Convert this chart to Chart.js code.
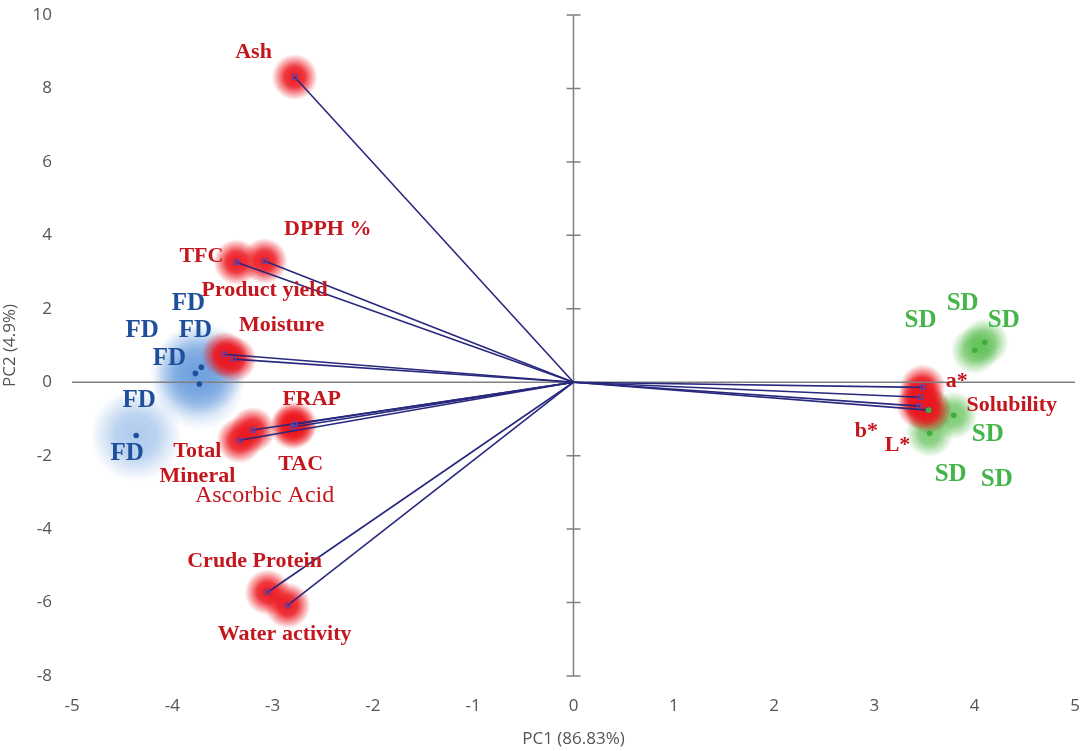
<!DOCTYPE html>
<html>
<head>
<meta charset="utf-8">
<script src="https://cdn.jsdelivr.net/npm/chart.js@4.4.1/dist/chart.umd.min.js"></script>
<style>
  html, body { margin:0; padding:0; background:#fff; }
  #wrap { width:1081px; height:751px; position:relative; }
</style>
</head>
<body>
<div id="wrap"><canvas id="biplot"></canvas></div>
<script>
// variable loadings (vector ends)
const varNames = ['Ash','TFC','DPPH %','Moisture','Product yield','FRAP','TAC','Total Mineral','Ascorbic Acid','Crude Protein','Water activity','a*','b*','L*','Solubility'];
const loadX = [-2.78,-3.36,-3.08,-3.48,-3.39,-2.78,-2.80,-3.33,-3.20,-3.05,-2.85,3.48,3.46,3.45,3.54];
const loadY = [8.31,3.27,3.30,0.76,0.63,-1.14,-1.22,-1.58,-1.30,-5.72,-6.08,-0.14,-0.41,-0.65,-0.76];

// sample scores
const fdX = [-3.77,-3.71,-3.73,-4.36];
const fdY = [0.24,0.41,-0.05,-1.45];
const sdX = [4.00,4.10,3.79,3.55,3.54];
const sdY = [0.87,1.09,-0.90,-1.39,-0.76];

// text labels
const redLabels = ['Ash','DPPH %','TFC','Product yield','Moisture','FRAP','Total','TAC','Mineral','Ascorbic Acid','Crude Protein','Water activity','a*','Solubility','b*','L*'];
const redLabelX = [-3.19,-2.45,-3.71,-3.08,-2.91,-2.61,-3.75,-2.72,-3.75,-3.08,-3.18,-2.88,3.82,4.37,2.92,3.23];
const redLabelY = [8.99,4.17,3.43,2.51,1.55,-0.46,-1.88,-2.23,-2.56,-3.08,-4.88,-6.87,0.03,-0.63,-1.34,-1.72];
const fdLabelX = [-3.84,-4.30,-3.77,-4.03,-4.33,-4.45];
const fdLabelY = [2.15,1.42,1.42,0.65,-0.49,-1.93];
const sdLabelX = [3.46,3.88,4.29,4.13,3.76,4.22];
const sdLabelY = [1.69,2.13,1.69,-1.42,-2.51,-2.64];

const xTicks = [-5,-4,-3,-2,-1,0,1,2,3,4,5];
const yTicks = [-8,-6,-4,-2,0,2,4,6,8,10];

function pts(xs, ys) { return xs.map((x, i) => ({ x: x, y: ys[i] })); }

function glow(rgb, r, a) {
  return ctx => {
    const c = ctx.chart;
    if (!ctx.raw || !c.chartArea) return 'rgba(0,0,0,0)';
    const x = c.scales.x.getPixelForValue(ctx.raw.x);
    const y = c.scales.y.getPixelForValue(ctx.raw.y);
    const g = c.ctx.createRadialGradient(x, y, 0, x, y, r);
    g.addColorStop(0, `rgba(${rgb},${a})`);
    g.addColorStop(0.45, `rgba(${rgb},${a * 0.85})`);
    g.addColorStop(1, `rgba(${rgb},0)`);
    return g;
  };
}

const datasets = [];

// glows
datasets.push({ type:'scatter', data: pts(loadX, loadY), pointRadius: 23, borderWidth: 0,
  backgroundColor: glow('236,22,30', 23, 1), order: 5, isGlow: true });
datasets.push({ type:'scatter', data: pts(fdX, fdY), pointRadius: 46, borderWidth: 0,
  backgroundColor: glow('80,140,215', 46, 0.45), order: 6, isGlow: true });
datasets.push({ type:'scatter', data: pts(sdX, sdY), pointRadius: 24, borderWidth: 0,
  backgroundColor: glow('90,190,80', 24, 0.8), order: 6, isGlow: true });

// loading vectors
varNames.forEach((name, i) => {
  datasets.push({
    type: 'line', label: name,
    data: [{ x: 0, y: 0 }, { x: loadX[i], y: loadY[i] }],
    borderColor: '#28287e', borderWidth: 1.6,
    pointRadius: [0, 3], pointStyle: 'rect',
    pointBorderColor: '#5b45b0', pointBackgroundColor: 'rgba(255,255,255,0)',
    pointBorderWidth: 1.3, order: 2
  });
});

// sample dots
datasets.push({ type:'scatter', data: pts(fdX, fdY), pointRadius: 2.8, borderWidth: 0,
  backgroundColor: '#1f4f9e', order: 1 });
datasets.push({ type:'scatter', data: pts(sdX, sdY), pointRadius: 2.8, borderWidth: 0,
  backgroundColor: '#3fae3f', order: 1 });

const crossAxes = {
  id: 'crossAxes',
  beforeDatasetsDraw(chart) { this.done = false; },
  beforeDatasetDraw(chart, args) {
    if (this.done || chart.data.datasets[args.index].isGlow) return;
    this.done = true;
    const { ctx, chartArea: a, scales: { x, y } } = chart;
    const x0 = x.getPixelForValue(0), y0 = y.getPixelForValue(0);
    ctx.save();
    ctx.strokeStyle = '#808080';
    ctx.lineWidth = 1.5;
    ctx.beginPath();
    ctx.moveTo(a.left, y0); ctx.lineTo(a.right, y0);
    ctx.moveTo(x0, a.top); ctx.lineTo(x0, a.bottom);
    yTicks.forEach(t => {
      const py = y.getPixelForValue(t);
      ctx.moveTo(x0 - 7, py); ctx.lineTo(x0 + 7, py);
    });
    ctx.stroke();
    ctx.restore();
  },
  afterDatasetsDraw(chart) {
    const { ctx, scales: { x, y } } = chart;
    const put = (texts, xs, ys, color, font) => {
      ctx.fillStyle = color;
      ctx.font = font;
      texts.forEach((t, i) => ctx.fillText(t, x.getPixelForValue(xs[i]), y.getPixelForValue(ys[i])));
    };
    ctx.save();
    ctx.textAlign = 'center';
    ctx.textBaseline = 'middle';
    redLabels.forEach((t, i) => {
      const font = t === 'Ascorbic Acid' ? '24px "Liberation Serif"' : 'bold 22px "Liberation Serif"';
      put([t], [redLabelX[i]], [redLabelY[i]], '#c3161d', font);
    });
    put(fdLabelX.map(() => 'FD'), fdLabelX, fdLabelY, '#1e4f9c', 'bold 25px "Liberation Serif"');
    put(sdLabelX.map(() => 'SD'), sdLabelX, sdLabelY, '#44b548', 'bold 25px "Liberation Serif"');
    ctx.restore();
  }
};

new Chart(document.getElementById('biplot'), {
  type: 'scatter',
  data: { datasets },
  plugins: [crossAxes],
  options: {
    responsive: true,
    maintainAspectRatio: false,
    animation: false,
    events: [],
    layout: { autoPadding: false, padding: { top: 15, right: 6, left: 0, bottom: 0 } },
    plugins: { legend: { display: false }, tooltip: { enabled: false } },
    scales: {
      x: {
        type: 'linear', min: -5, max: 5,
        afterBuildTicks: s => { s.ticks = xTicks.map(v => ({ value: v })); },
        afterFit: s => { s.height = 75; s.paddingLeft = 0; s.paddingRight = 0; },
        grid: { display: false }, border: { display: false },
        ticks: { color: '#555', padding: 12, font: { family: '"Open Sans"', size: 17 } },
        title: { display: true, text: 'PC1 (86.83%)', color: '#555', padding: { top: 0, bottom: 2 },
          font: { family: '"Open Sans"', size: 17 } }
      },
      y: {
        type: 'linear', min: -8, max: 10,
        afterBuildTicks: s => { s.ticks = yTicks.map(v => ({ value: v })); },
        afterFit: s => { s.width = 72; s.paddingTop = 0; s.paddingBottom = 0; },
        grid: { display: false }, border: { display: false },
        ticks: { color: '#555', padding: 12, font: { family: '"Open Sans"', size: 17 } },
        title: { display: true, text: 'PC2 (4.9%)', color: '#555', padding: { top: 0, bottom: 0 },
          font: { family: '"Open Sans"', size: 17 } }
      }
    }
  }
});
</script>
</body>
</html>
